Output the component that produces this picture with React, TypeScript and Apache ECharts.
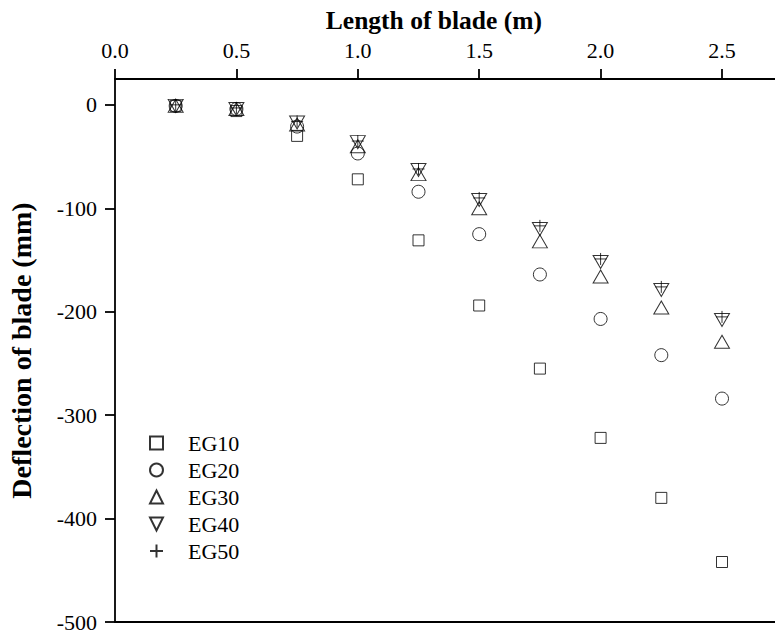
import React, { useEffect, useRef } from "react";
import * as echarts from "echarts";

const xValues = [0.25, 0.5, 0.75, 1.0, 1.25, 1.5, 1.75, 2.0, 2.25, 2.5];
const eg10 = [-1, -6, -30, -72, -131, -194, -255, -322, -380, -442];
const eg20 = [-1, -4, -21, -47, -84, -125, -164, -207, -242, -284];
const eg30 = [-1, -4, -19, -40, -67, -100, -132, -166, -196, -229];
const eg40 = [-1, -4, -17, -36, -63, -92, -120, -152, -179, -208];
const eg50 = [0, -3, -16, -35, -62, -90, -117, -149, -176, -205];

const xTicks = [0, 0.5, 1.0, 1.5, 2.0, 2.5];
const yTicks = [-500, -400, -300, -200, -100, 0];
const seriesNames = ["EG10", "EG20", "EG30", "EG40", "EG50"];

const FONT = "Liberation Serif";

export default function App() {
  const ref = useRef<HTMLDivElement>(null);
  useEffect(() => {
    if (!ref.current) return;
    const chart = echarts.init(ref.current, null, { renderer: "svg" });
    const pair = (ys: number[]) => xValues.map((x, i) => [x, ys[i]]);
    const markerStyle = { color: "rgba(255,255,255,0)", borderColor: "#000", borderWidth: 1 };
    const symbols: any[] = [
      { symbol: "rect", symbolSize: 11, data: eg10 },
      { symbol: "circle", symbolSize: 13, data: eg20 },
      { symbol: "triangle", symbolSize: [15, 13], data: eg30 },
      { symbol: "path://M0,0L10,0L5,10Z", symbolSize: [15, 13], data: eg40 },
      { symbol: "path://M5,0L5,10M0,5L10,5", symbolSize: 12, data: eg50 },
    ];
    chart.setOption({
      animation: false,
      backgroundColor: "#fff",
      grid: { left: 115, top: 79, width: 667.7, bottom: 13, outerBoundsMode: "none" },
      legend: {
        orient: "vertical",
        left: 149,
        top: 432,
        itemWidth: 13,
        itemHeight: 13,
        itemGap: 5,
        padding: 0,
        data: seriesNames,
        textStyle: { fontFamily: FONT, fontSize: 22, color: "#000", padding: [0, 0, 0, 20] },
      },
      xAxis: [
        {
          type: "value",
          position: "top",
          min: 0,
          max: 2.75,
          interval: 0.5,
          name: "Length of blade (m)",
          nameLocation: "middle",
          nameGap: 46,
          nameTextStyle: {
            fontFamily: FONT,
            fontSize: 25.5,
            fontWeight: "bold",
            color: "#000",
            padding: [0, 30, 0, 0],
          },
          axisLine: { show: true, onZero: false, lineStyle: { color: "#000", width: 1.8 } },
          axisTick: { show: true, inside: false, length: 10, customValues: xTicks, lineStyle: { color: "#000", width: 1.8 } },
          axisLabel: {
            show: true,
            customValues: xTicks,
            margin: 18,
            fontFamily: FONT,
            fontSize: 22,
            color: "#000",
            formatter: (v: number) => v.toFixed(1),
          },
          splitLine: { show: false },
        },
        {
          type: "value",
          position: "bottom",
          min: 0,
          max: 2.75,
          axisLine: { show: true, onZero: false, lineStyle: { color: "#000", width: 1.8 } },
          axisTick: { show: false },
          axisLabel: { show: false },
          splitLine: { show: false },
        },
      ],
      yAxis: {
        type: "value",
        min: -500,
        max: 25,
        interval: 100,
        name: "Deflection of blade (mm)",
        nameLocation: "middle",
        nameGap: 80,
        nameRotate: 90,
        nameTextStyle: { fontFamily: FONT, fontSize: 28, fontWeight: "bold", color: "#000" },
        axisLine: { show: true, onZero: false, lineStyle: { color: "#000", width: 1.8 } },
        axisTick: { show: true, inside: false, length: 10, customValues: yTicks, lineStyle: { color: "#000", width: 1.8 } },
        axisLabel: { show: true, customValues: yTicks, margin: 18, fontFamily: FONT, fontSize: 22, color: "#000" },
        splitLine: { show: false },
      },
      series: seriesNames.map((name, k) => ({
        name,
        type: "scatter",
        xAxisIndex: 0,
        symbol: symbols[k].symbol,
        symbolSize: symbols[k].symbolSize,
        itemStyle: markerStyle,
        emphasis: { disabled: true },
        data: pair(symbols[k].data),
      })),
    });
    return () => chart.dispose();
  }, []);
  return (
    <div
      ref={ref}
      style={{ position: "absolute", left: 0, top: 0, width: 775, height: 635 }}
    />
  );
}
